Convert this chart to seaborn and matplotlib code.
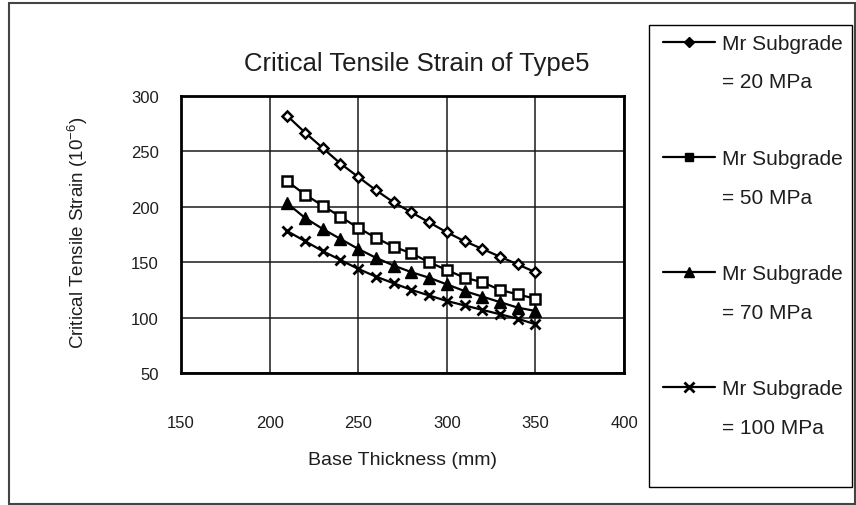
import numpy as np
import pandas as pd
import matplotlib
matplotlib.use("Agg")
import matplotlib.pyplot as plt
from matplotlib.lines import Line2D
from matplotlib.patches import Rectangle
import seaborn as sns

# Base thickness (mm) and critical tensile strain (x10^-6) per subgrade modulus
thickness = [210, 220, 230, 240, 250, 260, 270, 280, 290, 300, 310, 320, 330, 340, 350]
mr20 = [282, 267, 253, 239, 227, 215, 204, 195, 186, 177, 169, 162, 155, 148, 141]
mr50 = [223, 211, 201, 191, 181, 172, 164, 158, 150, 143, 136, 132, 125, 121, 117]
mr70 = [203, 190, 180, 171, 162, 154, 147, 141, 136, 130, 124, 119, 114, 109, 106]
mr100 = [178, 169, 160, 152, 144, 137, 131, 125, 120, 115, 111, 107, 103, 99, 94]

series_names = ["= 20 MPa", "= 50 MPa", "= 70 MPa", "= 100 MPa"]
x_ticks = [150, 200, 250, 300, 350, 400]
y_ticks = [50, 100, 150, 200, 250, 300]

df = pd.concat([
    pd.DataFrame({"thickness": thickness, "strain": vals, "series": name})
    for name, vals in zip(series_names, [mr20, mr50, mr70, mr100])
], ignore_index=True)

sns.set_theme(style="white")
plt.rcParams["font.family"] = ["Liberation Sans", "DejaVu Sans"]
plt.rcParams["mathtext.fontset"] = "custom"
plt.rcParams["mathtext.rm"] = "Liberation Sans"
plt.rcParams["mathtext.it"] = "Liberation Sans"
text_color = "#1e1e1e"

fig = plt.figure(figsize=(8.56, 5.06), dpi=100)
W, H = 856, 506
ax = fig.add_axes([181 / W, 1 - 374 / H, (624 - 181) / W, (374 - 97) / H])

styles = {
    "= 20 MPa": dict(marker="D", markersize=5.5, markerfacecolor="white", markeredgewidth=1.8),
    "= 50 MPa": dict(marker="s", markersize=6.5, markerfacecolor="white", markeredgewidth=1.8),
    "= 70 MPa": dict(marker="^", markersize=8, markerfacecolor="black", markeredgewidth=1),
    "= 100 MPa": dict(marker="x", markersize=7, markeredgewidth=2),
}
for name in series_names:
    sns.lineplot(data=df[df["series"] == name], x="thickness", y="strain",
                 color="black", linewidth=1.6, markeredgecolor="black",
                 ax=ax, legend=False, **styles[name])

ax.set_xlim(150, 400)
ax.set_ylim(50, 300)
ax.set_xticks(x_ticks)
ax.set_yticks(y_ticks)
ax.grid(True, color="#1a1a1a", linewidth=1.1)
for s in ax.spines.values():
    s.set_linewidth(2.0)
    s.set_color("black")
ax.tick_params(axis="both", direction="out", length=6, width=1, color="black",
               labelsize=12, labelcolor=text_color)
ax.tick_params(axis="x", pad=24)
ax.tick_params(axis="y", pad=10)

ax.set_xlabel("Base Thickness (mm)", fontsize=14, color=text_color)
ax.xaxis.set_label_coords(0.5, -0.28)
ax.set_ylabel("Critical Tensile Strain (10$^{-6}$)", fontsize=13.5, color=text_color)
ax.yaxis.set_label_coords(-0.205, 0.51)

fig.text(417 / W, 1 - 64 / H, "Critical Tensile Strain of Type5", fontsize=18.5,
         color=text_color, ha="center", va="center")

# Legend box and outer chart border
fig.patches.append(Rectangle((649 / W, 1 - 488 / H), (852 - 649) / W, (488 - 26) / H,
                             transform=fig.transFigure, fill=False,
                             edgecolor="black", linewidth=1.0))
fig.patches.append(Rectangle((9 / W, 1 - 505 / H), (855 - 9) / W, (505 - 4) / H,
                             transform=fig.transFigure, fill=False,
                             edgecolor="#444444", linewidth=1.5))

legend_markers = [
    dict(marker="D", markersize=5, markerfacecolor="black"),
    dict(marker="s", markersize=6, markerfacecolor="black"),
    dict(marker="^", markersize=7, markerfacecolor="black"),
    dict(marker="x", markersize=7, markeredgewidth=2),
]
blank = Line2D([], [], linestyle="none")
handles, labels = [], []
for i, (name, mk) in enumerate(zip(series_names, legend_markers)):
    handles.append(Line2D([], [], color="black", linewidth=1.6,
                          markeredgecolor="black", **mk))
    labels.append("Mr Subgrade")
    handles.append(blank)
    labels.append(name)
    if i < len(series_names) - 1:
        handles.append(blank)
        labels.append(" ")

leg = fig.legend(handles, labels, loc="upper left",
                 bbox_to_anchor=(663 / W, 1 - 35 / H), frameon=False,
                 fontsize=15, handlelength=2.5, handletextpad=0.35,
                 labelspacing=0.93, borderaxespad=0, borderpad=0)
for t in leg.get_texts():
    t.set_color(text_color)

fig.savefig("out.png", dpi=100, facecolor="white")
